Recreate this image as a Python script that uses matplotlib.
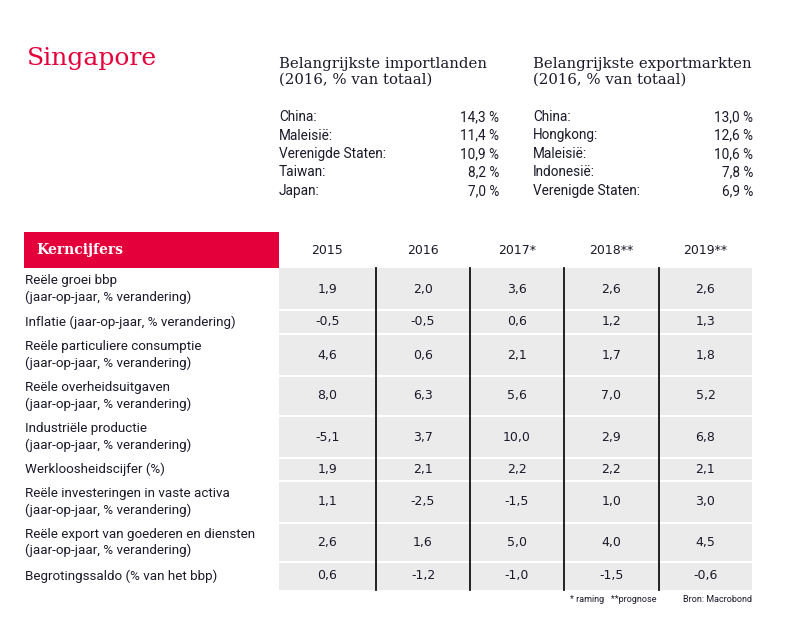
import matplotlib.pyplot as plt
from matplotlib.patches import Rectangle

RED = '#e4003a'
GREY = '#ebebeb'
INK = '#1a1a2a'
SANS = ['Liberation Sans Narrow', 'Roboto', 'DejaVu Sans']
SERIF = ['DejaVu Serif']

country = 'Singapore'
import_title = 'Belangrijkste importlanden\n(2016, % van totaal)'
import_names = ['China:', 'Maleisië:', 'Verenigde Staten:', 'Taiwan:', 'Japan:']
import_vals = ['14,3 %', '11,4 %', '10,9 %', '8,2 %', '7,0 %']
export_title = 'Belangrijkste exportmarkten\n(2016, % van totaal)'
export_names = ['China:', 'Hongkong:', 'Maleisië:', 'Indonesië:', 'Verenigde Staten:']
export_vals = ['13,0 %', '12,6 %', '10,6 %', '7,8 %', '6,9 %']

years = ['2015', '2016', '2017*', '2018**', '2019**']
row_labels = [
    'Reële groei bbp\n(jaar-op-jaar, % verandering)',
    'Inflatie (jaar-op-jaar, % verandering)',
    'Reële particuliere consumptie\n(jaar-op-jaar, % verandering)',
    'Reële overheidsuitgaven\n(jaar-op-jaar, % verandering)',
    'Industriële productie\n(jaar-op-jaar, % verandering)',
    'Werkloosheidscijfer (%)',
    'Reële investeringen in vaste activa\n(jaar-op-jaar, % verandering)',
    'Reële export van goederen en diensten\n(jaar-op-jaar, % verandering)',
    'Begrotingssaldo (% van het bbp)',
]
values = [
    ['1,9', '2,0', '3,6', '2,6', '2,6'],
    ['-0,5', '-0,5', '0,6', '1,2', '1,3'],
    ['4,6', '0,6', '2,1', '1,7', '1,8'],
    ['8,0', '6,3', '5,6', '7,0', '5,2'],
    ['-5,1', '3,7', '10,0', '2,9', '6,8'],
    ['1,9', '2,1', '2,2', '2,2', '2,1'],
    ['1,1', '-2,5', '-1,5', '1,0', '3,0'],
    ['2,6', '1,6', '5,0', '4,0', '4,5'],
    ['0,6', '-1,2', '-1,0', '-1,5', '-0,6'],
]
row_edges = [268, 310, 334, 376, 416, 458, 481, 523, 562, 590]
col_edges = [279, 376, 470, 564, 659, 752]

fig = plt.figure(figsize=(7.95, 6.34), dpi=100)
ax = fig.add_axes([0, 0, 1, 1])
ax.set_xlim(0, 795)
ax.set_ylim(634, 0)
ax.axis('off')

# title and top lists
ax.text(27, 58, country, color=RED, fontsize=18, family=SERIF, va='center')
for x0, x1, title, names, vals in [(279, 499, import_title, import_names, import_vals),
                                   (533, 753, export_title, export_names, export_vals)]:
    ax.text(x0, 72, title, fontsize=10.7, family=SERIF, color=INK, va='center', linespacing=1.15)
    for i, (n, v) in enumerate(zip(names, vals)):
        y = 117 + i * 18.5
        ax.text(x0, y, n, fontsize=9.8, family=SANS, color=INK, va='center')
        ax.text(x1, y, v, fontsize=9.8, family=SANS, color=INK, va='center', ha='right')

# header
ax.add_patch(Rectangle((24, 232), 255, 36, color=RED, lw=0))
ax.text(36, 250, 'Kerncijfers', color='white', fontsize=10, family=SERIF,
        fontweight='bold', va='center')
centers = [(a + b) / 2 for a, b in zip(col_edges[:-1], col_edges[1:])]
for c, yr in zip(centers, years):
    ax.text(c, 250, yr, fontsize=9, family='DejaVu Sans', color=INK, ha='center', va='center')

# grey body
ax.add_patch(Rectangle((col_edges[0], row_edges[0]), col_edges[-1] - col_edges[0],
                       row_edges[-1] - row_edges[0], color=GREY, lw=0))
for y in row_edges[1:-1]:
    ax.plot([col_edges[0], col_edges[-1]], [y, y], color='white', lw=1.5)
for x in col_edges[1:-1]:
    ax.plot([x, x], [row_edges[0], row_edges[-1]], color='#111111', lw=1.3)

for r, lab in enumerate(row_labels):
    yc = (row_edges[r] + row_edges[r + 1]) / 2
    ax.text(25, yc, lab, fontsize=9.6, family=SANS, color=INK, va='center', linespacing=1.3)
    for c, v in zip(centers, values[r]):
        ax.text(c, yc, v, fontsize=9, family='DejaVu Sans', color=INK, ha='center', va='center')

ax.text(657, 600, '* raming   **prognose', fontsize=6.5, family=SANS, color=INK,
        ha='right', va='center')
ax.text(752, 600, 'Bron: Macrobond', fontsize=6.5, family=SANS, color=INK,
        ha='right', va='center')

fig.savefig('out.png', dpi=100)
